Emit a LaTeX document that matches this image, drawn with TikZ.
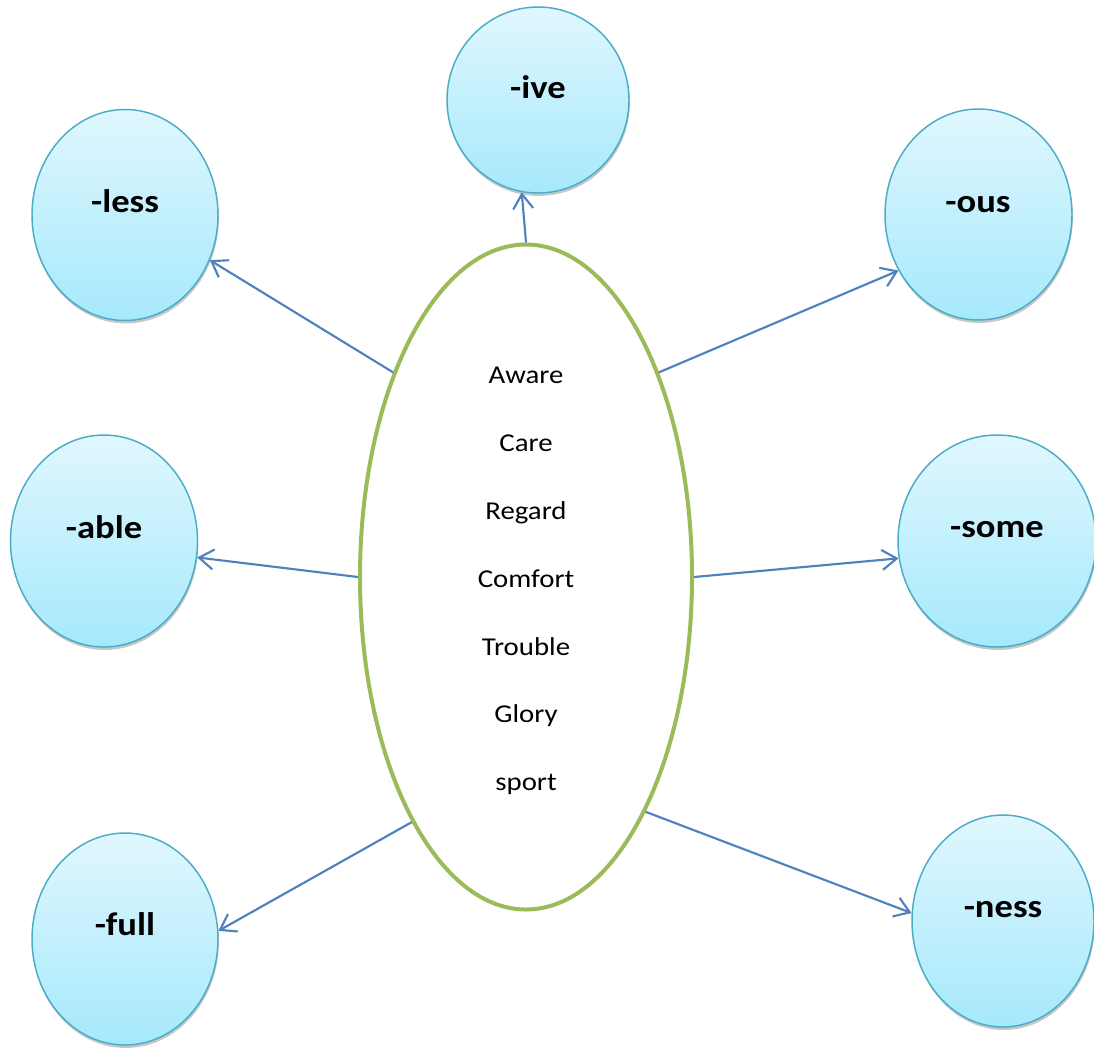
\documentclass[tikz,border=0pt]{standalone}
\usepackage{fontspec}
\setmainfont{Carlito}
\usetikzlibrary{shapes.geometric,arrows.meta,shadows}
\definecolor{ctop}{HTML}{E0F7FE}
\definecolor{cbot}{HTML}{A6E9FC}
\definecolor{cborder}{HTML}{4BACC6}
\definecolor{cgreen}{HTML}{9BBB59}
\definecolor{carrow}{HTML}{4F81BD}
\newcommand{\wide}[1]{\scalebox{1.12}[1]{#1}}
\begin{document}
\begin{tikzpicture}[x=0.75pt,y=-0.75pt,
  suffix/.style={ellipse, draw=cborder, line width=1.1pt, top color=ctop, bottom color=cbot, inner sep=0pt,
    drop shadow={shadow xshift=0.6pt, shadow yshift=-2.2pt, opacity=0.22, fill=black}},
  sufl/.style={font=\fontsize{24.5}{28}\selectfont\bfseries, anchor=base, inner sep=0pt},
  word/.style={font=\fontsize{19.3}{22}\selectfont, anchor=base, inner sep=0pt},
  link/.style={draw=carrow, line width=1.6pt, -{Straight Barb[length=11pt,width=15pt]}}]
\useasboundingbox (0,0) rectangle (1094,1047);

% central ellipse
\node[ellipse, draw=cgreen, line width=3pt, fill=white, minimum width=249pt, minimum height=498.75pt, inner sep=0pt] (c) at (526,577) {};

% suffix ellipses
\node[suffix, minimum width=136.5pt, minimum height=139.5pt] (ive) at (538,100) {};
\node[suffix, minimum width=139.5pt, minimum height=158.25pt] (less) at (125,215) {};
\node[suffix, minimum width=140.25pt, minimum height=158.25pt] (ous) at (978.5,214.5) {};
\node[suffix, minimum width=140.25pt, minimum height=159pt] (able) at (104,541) {};
\node[suffix, minimum width=148.5pt, minimum height=159pt] (some) at (997,541) {};
\node[suffix, minimum width=139.5pt, minimum height=159pt] (full) at (125,939) {};
\node[suffix, minimum width=136.5pt, minimum height=159pt] (ness) at (1003,921) {};

% suffix labels
\node[sufl] (tive) at (538,98) {\wide{-ive}};
\node[sufl] (tless) at (125,212) {\wide{-less}};
\node[sufl] (tous) at (978,212) {\wide{-ous}};
\node[sufl] (table) at (104,538) {\wide{-able}};
\node[sufl] (tsome) at (997,537) {\wide{-some}};
\node[sufl] (tfull) at (125,935) {\wide{-full}};
\node[sufl] (tness) at (1003,917) {\wide{-ness}};

% words
\node[word] (w1) at (526,383) {\wide{Aware}};
\node[word] (w2) at (526,451) {\wide{Care}};
\node[word] (w3) at (526,519) {\wide{Regard}};
\node[word] (w4) at (526,587) {\wide{Comfort}};
\node[word] (w5) at (526,655) {\wide{Trouble}};
\node[word] (w6) at (526,722) {\wide{Glory}};
\node[word] (w7) at (526,790) {\wide{sport}};

% connectors
\draw[link] (c.90) -- (ive.260);
\draw[link] (c.123) -- (less.332);
\draw[link] (c.57) -- (ous.215.5);
\draw[link] (c.180) -- (able.350);
\draw[link] (c.0) -- (some.190);
\draw[link] (c.245) -- (full.5);
\draw[link] (c.297.5) -- (ness.175);
\end{tikzpicture}
\end{document}
